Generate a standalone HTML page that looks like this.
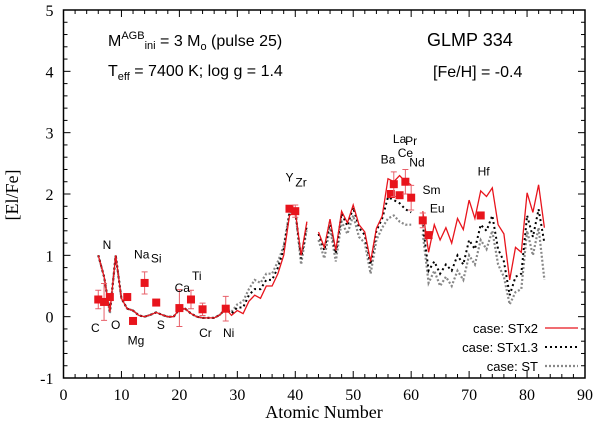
<!DOCTYPE html>
<html><head><meta charset="utf-8"><style>
body{margin:0;background:#fff;width:600px;height:432px;overflow:hidden}
svg{font-family:"Liberation Sans",sans-serif}
</style></head><body>
<svg id="chart" width="600" height="432" viewBox="0 0 600 432" xmlns="http://www.w3.org/2000/svg">
<g id="grid"></g>
<g id="series"></g>
<g id="points"></g>
<g id="labels" font-size="12" fill="#000"></g>
<g font-size="16">
<text x="108" y="46">M<tspan font-size="11" dy="-7">AGB</tspan><tspan font-size="11" dy="10">ini</tspan><tspan dy="-3"> = 3 M</tspan><tspan font-size="11" dy="4">o</tspan><tspan dy="-4"> (pulse 25)</tspan></text>
<text x="108" y="76">T<tspan font-size="11" dy="4">eff</tspan><tspan dy="-4"> = 7400 K; log g = 1.4</tspan></text>
<text x="427" y="46" font-size="18">GLMP 334</text>
<text x="433" y="77">[Fe/H] = -0.4</text>
</g>
<g id="legend" font-size="13"></g>
<text x="324" y="418" font-family="Liberation Serif,serif" font-size="18" text-anchor="middle">Atomic Number</text>
<text transform="translate(18,195) rotate(-90)" font-family="Liberation Serif,serif" font-size="18" text-anchor="middle">[El/Fe]</text>
</svg>
<script>
const Z1 = [6,7,8,9,10,11,12,13,14,15,16,17,18,19,20,21,22,23,24,25,26,27,28,29,30,31,32,33,34,35,36,37,38,39,40,41,42];
const red1 = [1.0,0.65,0.08,1.0,0.3,0.13,0.1,0.02,0.0,0.03,0.07,0.03,0.0,0.0,0.12,0.13,0.05,0.0,-0.02,-0.02,-0.02,0.03,0.13,0.02,0.1,0.05,0.25,0.35,0.3,0.5,0.5,0.7,1.0,1.65,1.72,1.0,1.55];
const blk1 = [1.0,0.65,0.08,1.0,0.3,0.13,0.1,0.02,0.0,0.03,0.07,0.03,0.0,0.0,0.12,0.13,0.05,0.0,-0.02,-0.02,-0.02,0.03,0.13,0.05,0.15,0.15,0.35,0.45,0.45,0.6,0.6,0.8,1.1,1.68,1.72,0.95,1.5];
const gry1 = [1.0,0.65,0.05,1.0,0.3,0.13,0.1,0.02,0.0,0.03,0.07,0.03,0.0,0.0,0.12,0.13,0.05,0.0,-0.02,-0.02,-0.02,0.03,0.13,0.08,0.2,0.25,0.45,0.6,0.55,0.7,0.7,0.9,1.15,1.7,1.72,0.85,1.45];
const Z2 = [44,45,46,47,48,49,50,51,52,53,54,55,56,57,58,59,60];
const red2 = [1.38,1.13,1.59,1.08,1.72,1.53,1.82,1.5,1.38,0.9,1.44,1.64,2.25,2.2,2.3,2.2,2.15];
const blk2 = [1.35,1.08,1.55,1.03,1.68,1.48,1.78,1.45,1.33,0.85,1.4,1.6,1.95,1.9,1.85,1.75,1.7];
const gry2 = [1.25,0.95,1.45,0.9,1.55,1.35,1.65,1.3,1.2,0.7,1.25,1.45,1.6,1.65,1.55,1.5,1.5];
const Z3 = [62,63,64,65,66,67,68,69,70,71,72,73,74,75,76,77,78,79,80,81,82,83];
const red3 = [1.72,1.05,1.5,1.25,1.45,1.2,1.6,1.42,1.9,1.6,2.05,1.96,2.1,1.5,1.35,0.6,1.13,1.05,2.02,1.7,2.15,1.45];
const blk3 = [1.5,0.75,0.9,0.7,0.85,0.75,1.0,0.85,1.25,1.1,1.5,1.4,1.65,1.1,0.9,0.35,0.65,0.7,1.65,1.3,1.75,1.2];
const gry3 = [1.35,0.55,0.75,0.5,0.65,0.5,0.75,0.6,1.0,0.85,1.25,1.1,1.4,0.85,0.65,0.2,0.4,0.45,1.4,1.0,1.45,0.6];
const obsZ = [6,7,8,11,12,14,16,20,22,24,28,39,40,56.5,57,58,59,60,62,63,72];
const obsV = [0.28,0.24,0.32,0.32,-0.07,0.55,0.23,0.14,0.28,0.12,0.13,1.76,1.72,2.0,2.16,1.98,2.2,1.94,1.57,1.33,1.65];
const obsE = [0.15,0.3,0.0,0.0,0.0,0.18,0.0,0.3,0.15,0.1,0.2,0.0,0.1,0.0,0.2,0.0,0.2,0.2,0.12,0.0,0.0];
const labNames = ["C","N","O","Na","Mg","Si","S","Ca","Ti","Cr","Ni","Y","Zr","Ba","La","Pr","Ce","Nd","Sm","Eu","Hf"];
const labZ = [5.5,7.5,9,13.5,12.5,16,16.8,20.5,23,24.5,28.5,39,41,56,58,60,59,61,63.5,64.5,72.5];
const labV = [-0.25,1.1,-0.2,0.95,-0.45,0.88,-0.2,0.4,0.6,-0.33,-0.33,2.2,2.12,2.5,2.83,2.8,2.6,2.45,2.0,1.7,2.3];
const xTicks = [0,10,20,30,40,50,60,70,80,90];
const yTicks = [-1,0,1,2,3,4,5];

const L=63.5,R=585,T=10,B=378;
const sx=z=>L+(z-0)*(R-L)/90;
const sy=v=>B-(v+1)*(B-T)/6;
const NS="http://www.w3.org/2000/svg";
function mk(tag,parent,attrs){const e=document.createElementNS(NS,tag);for(const k in attrs)e.setAttribute(k,attrs[k]);parent.appendChild(e);return e;}
const grid=document.getElementById('grid');
const frame=mk('rect',grid,{x:L,y:T,width:R-L,height:B-T,fill:'none',stroke:'#000','stroke-width':1.5});


for(let z=0;z<=90;z+=2){const big=z%10===0;const len=big?7:4;
 mk('line',grid,{x1:sx(z),x2:sx(z),y1:B,y2:B-len,stroke:'#000'});
 mk('line',grid,{x1:sx(z),x2:sx(z),y1:T,y2:T+len,stroke:'#000'});}
for(let i=0;i<=30;i++){const v=-1+i*0.2;const big=i%5===0;const len=big?7:4;
 mk('line',grid,{x1:L,x2:L+len,y1:sy(v),y2:sy(v),stroke:'#000'});
 mk('line',grid,{x1:R,x2:R-len,y1:sy(v),y2:sy(v),stroke:'#000'});}
xTicks.forEach(t=>{const e=mk('text',grid,{x:sx(t),y:B+22,'text-anchor':'middle','font-size':16,'font-family':'Liberation Serif,serif'});e.textContent=t;

});
yTicks.forEach(t=>{const e=mk('text',grid,{x:L-10,y:sy(t)+6,'text-anchor':'end','font-size':16,'font-family':'Liberation Serif,serif'});e.textContent=t;

});
const ser=document.getElementById('series');
function line(Z,V,style,name){const d=Z.map((z,i)=>(i?'L':'M')+sx(z).toFixed(1)+','+sy(V[i]).toFixed(1)).join('');
 const p=mk('path',ser,Object.assign({d:d,fill:'none'},style));
 
 }
const gs={stroke:'#888','stroke-width':2.2,'stroke-dasharray':'2,2'};
const bs={stroke:'#000','stroke-width':2,'stroke-dasharray':'2,3'};
const rs={stroke:'#e8141c','stroke-width':1.3};
[[Z1,gry1],[Z2,gry2],[Z3,gry3]].forEach(a=>line(a[0],a[1],gs,'line-st'));
[[Z1,blk1],[Z2,blk2],[Z3,blk3]].forEach(a=>line(a[0],a[1],bs,'line-stx1.3'));
[[Z1,red1],[Z2,red2],[Z3,red3]].forEach(a=>line(a[0],a[1],rs,'line-stx2'));
const pts=document.getElementById('points');
obsZ.forEach((z,i)=>{const x=sx(z),y=sy(obsV[i]);
 if(obsE[i]>0){const y1=sy(obsV[i]+obsE[i]),y2=sy(obsV[i]-obsE[i]);
  const eb=mk('path',pts,{d:`M${x},${y1}V${y2}M${x-3},${y1}h6M${x-3},${y2}h6`,stroke:'#e8606a','stroke-width':1,fill:'none'});
  
  }
 const r=mk('rect',pts,{x:x-4,y:y-4,width:8,height:8,fill:'#e8141c'});
 
 });
const lab=document.getElementById('labels');
labNames.forEach((n,i)=>{const e=mk('text',lab,{x:sx(labZ[i]),y:sy(labV[i]),'text-anchor':'middle'});e.textContent=n;
 
 });
const lg=document.getElementById('legend');
[['case: STx2',rs,336],['case: STx1.3',bs,355],['case: ST',gs,374]].forEach(a=>{
 const t=mk('text',lg,{x:538,y:a[2]-8+5,'text-anchor':'end'});t.textContent=a[0];
 
 
 mk('line',lg,Object.assign({x1:545,x2:578,y1:a[2]-8,y2:a[2]-8},a[1]));});
</script>
</body></html>
